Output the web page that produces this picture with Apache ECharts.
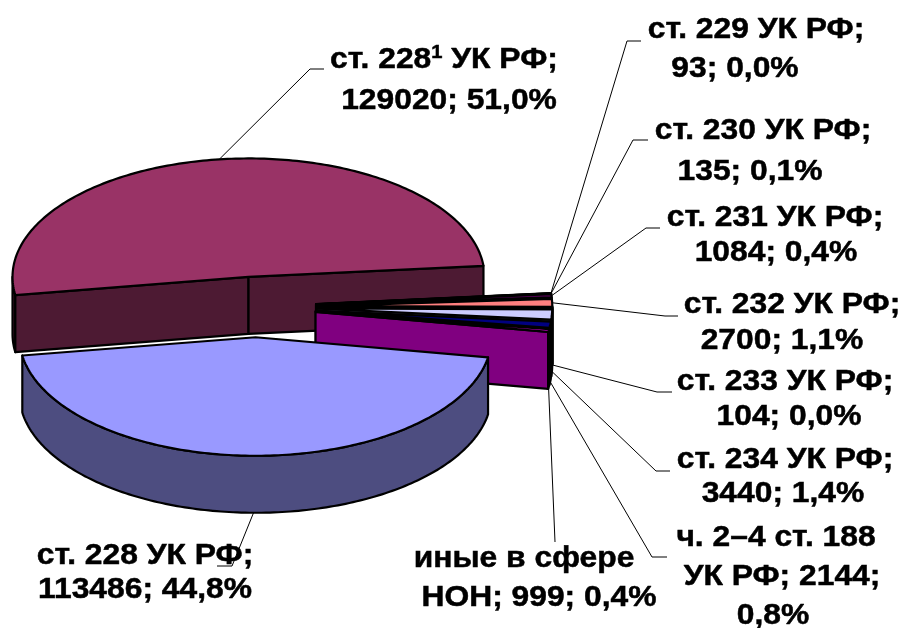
<!DOCTYPE html>
<html>
<head>
<meta charset="utf-8">
<style>html,body{margin:0;padding:0;background:#fff}#c{width:905px;height:628px}</style>
<script src="https://cdn.jsdelivr.net/npm/echarts@6/dist/echarts.min.js"></script>
</head>
<body>
<div id="c"></div>
<script>
// ---- data (order = order of slices clockwise) ----
var categories = ['ст. 228 УК РФ','ст. 228¹ УК РФ','ст. 229 УК РФ','ст. 230 УК РФ','ст. 231 УК РФ','ст. 232 УК РФ','ст. 233 УК РФ','ст. 234 УК РФ','ч. 2–4 ст. 188 УК РФ','иные в сфере НОН'];
var values = [113486,129020,93,135,1084,2700,104,3440,2144,999];
var percents = ['44,8%','51,0%','0,0%','0,1%','0,4%','1,1%','0,0%','1,4%','0,8%','0,4%'];
var colors = ['#9999FF','#993366','#FFFFCC','#CCFFFF','#660066','#FF8080','#0066CC','#CCCCFF','#000080','#FF00FF'];
var sideColors = ['#4D4D80','#4D1A33','#808066','#668080','#330033','#804040','#003366','#666680','#000040','#800080'];
var drawOrder = [1,2,3,4,5,6,7,8,9,0];

// ---- label text, one entry per line, with its centre ----
var labelLines = [
  ['{a|ст. 228}{s|1}{a| УК РФ;}',444,60],['129020; 51,0%',449,101],
  ['ст. 229 УК РФ;',756,30],['93; 0,0%',735,69],
  ['ст. 230 УК РФ;',763,131],['135; 0,1%',750,172],
  ['ст. 231 УК РФ;',775,218],['1084; 0,4%',776,253],
  ['ст. 232 УК РФ;',792,305],['2700; 1,1%',782,341],
  ['ст. 233 УК РФ;',785,382],['104; 0,0%',789,417],
  ['ст. 234 УК РФ;',785,460],['3440; 1,4%',783,494],
  ['ч. 2–4 ст. 188',776,538],['УК РФ; 2144;',782,577],['0,8%',773,616],
  ['иные в сфере',524,559],['НОН; 999; 0,4%',539,598],
  ['ст. 228 УК РФ;',145,556],['113486; 44,8%',145,590]
];
// ---- leader lines: slice index, start on underside?, elbow, end ----
var leaders = [
  [1,false,[310,69],[324,69]],
  [2,false,[627,41],[641,41]],
  [3,false,[633,140],[648,140]],
  [4,false,[646,228],[660,228]],
  [5,false,[665,316],[678,316]],
  [6,true,[657,392],[672,392]],
  [7,true,[656,471],[670,471]],
  [8,true,[652,557],[667,557]],
  [9,true,[555,542],[555,542]],
  [0,true,[232,566],[217,566]]
];

// ---- projection of the tilted, exploded pie ----
var CX = 256, CY = 307, RA = 236, RB = 118.5, EXPLODE = 0.2555, DEPTH = 57, START = 9.8;
var total = values.reduce(function (a, b) { return a + b; }, 0);
var RAD = Math.PI / 180;

function sliceOf(i) {
  var before = 0;
  for (var k = 0; k < i; k++) before += values[k];
  var t0 = START + before / total * 360;
  var t1 = t0 + values[i] / total * 360;
  var mid = (t0 + t1) / 2 * RAD;
  return {
    t0: t0, t1: t1,
    ax: CX + EXPLODE * RA * Math.cos(mid),
    ay: CY + EXPLODE * RB * Math.sin(mid)
  };
}
function rimPoint(s, t, dz) {
  return [s.ax + RA * Math.cos(t * RAD), s.ay + RB * Math.sin(t * RAD) + (dz || 0)];
}
function arc(s, a, b, dz) {
  var pts = [], n = Math.max(1, Math.ceil(Math.abs(b - a)));
  for (var k = 0; k <= n; k++) pts.push(rimPoint(s, a + (b - a) * k / n, dz));
  return pts;
}
var OUTLINE = { stroke: '#000', lineWidth: 2.2, lineJoin: 'round' };
function poly(points, fill) {
  return { type: 'polygon', shape: { points: points }, style: Object.assign({ fill: fill }, OUTLINE) };
}
function renderSlice(params, api) {
  var i = api.value(1), s = sliceOf(i), kids = [];
  var side = sideColors[i], apex = [s.ax, s.ay], apexLow = [s.ax, s.ay + DEPTH];
  // the front-facing part(s) of the rim
  [[0, 180], [360, 540]].forEach(function (w) {
    var a = Math.max(s.t0, w[0]), b = Math.min(s.t1, w[1]);
    if (b > a) kids.push(poly(arc(s, a, b, 0).concat(arc(s, b, a, DEPTH)), side));
  });
  // cut faces that look toward the viewer
  if (Math.cos(s.t0 * RAD) < 0) {
    var p0 = rimPoint(s, s.t0, 0), q0 = rimPoint(s, s.t0, DEPTH);
    kids.push(poly([apex, p0, q0, apexLow], side));
  }
  if (Math.cos(s.t1 * RAD) > 0) {
    var p1 = rimPoint(s, s.t1, 0), q1 = rimPoint(s, s.t1, DEPTH);
    kids.push(poly([apex, p1, q1, apexLow], side));
  }
  // top surface
  kids.push(poly([apex].concat(arc(s, s.t0, s.t1, 0)), colors[i]));
  return { type: 'group', children: kids };
}

// ---- texts and leader lines ----
var FONT = 'Liberation Sans';
var graphics = [];
leaders.forEach(function (l) {
  var s = sliceOf(l[0]), mid = (s.t0 + s.t1) / 2;
  var start = rimPoint(s, mid, l[1] ? DEPTH : 0);
  graphics.push({
    type: 'polyline', z: 50,
    shape: { points: [start, l[2], l[3]] },
    style: { stroke: '#000', lineWidth: 1, fill: null }
  });
});
labelLines.forEach(function (l) {
  graphics.push({
    type: 'text', z: 60, x: l[1], y: l[2], scaleX: 1.06,
    style: {
      text: l[0], fill: '#000', align: 'center', verticalAlign: 'middle',
      stroke: '#000', lineWidth: 0.5,
      fontFamily: FONT, fontWeight: 'bold', fontSize: 30,
      rich: {
        a: { fontFamily: FONT, fontWeight: 'bold', fontSize: 30, fill: '#000', stroke: '#000', lineWidth: 0.5 },
        s: { fontFamily: FONT, fontWeight: 'bold', fontSize: 19, fill: '#000', stroke: '#000', lineWidth: 0.5, padding: [0, 0, 14, 0] }
      }
    }
  });
});

var chart = echarts.init(document.getElementById('c'), null, { renderer: 'canvas' });
chart.setOption({
  animation: false,
  backgroundColor: '#fff',
  series: [{
    type: 'custom',
    coordinateSystem: 'none',
    renderItem: renderSlice,
    data: drawOrder.map(function (i) {
      return { name: categories[i], value: [values[i], i, percents[i]] };
    })
  }],
  graphic: { elements: graphics }
});
</script>
</body>
</html>
